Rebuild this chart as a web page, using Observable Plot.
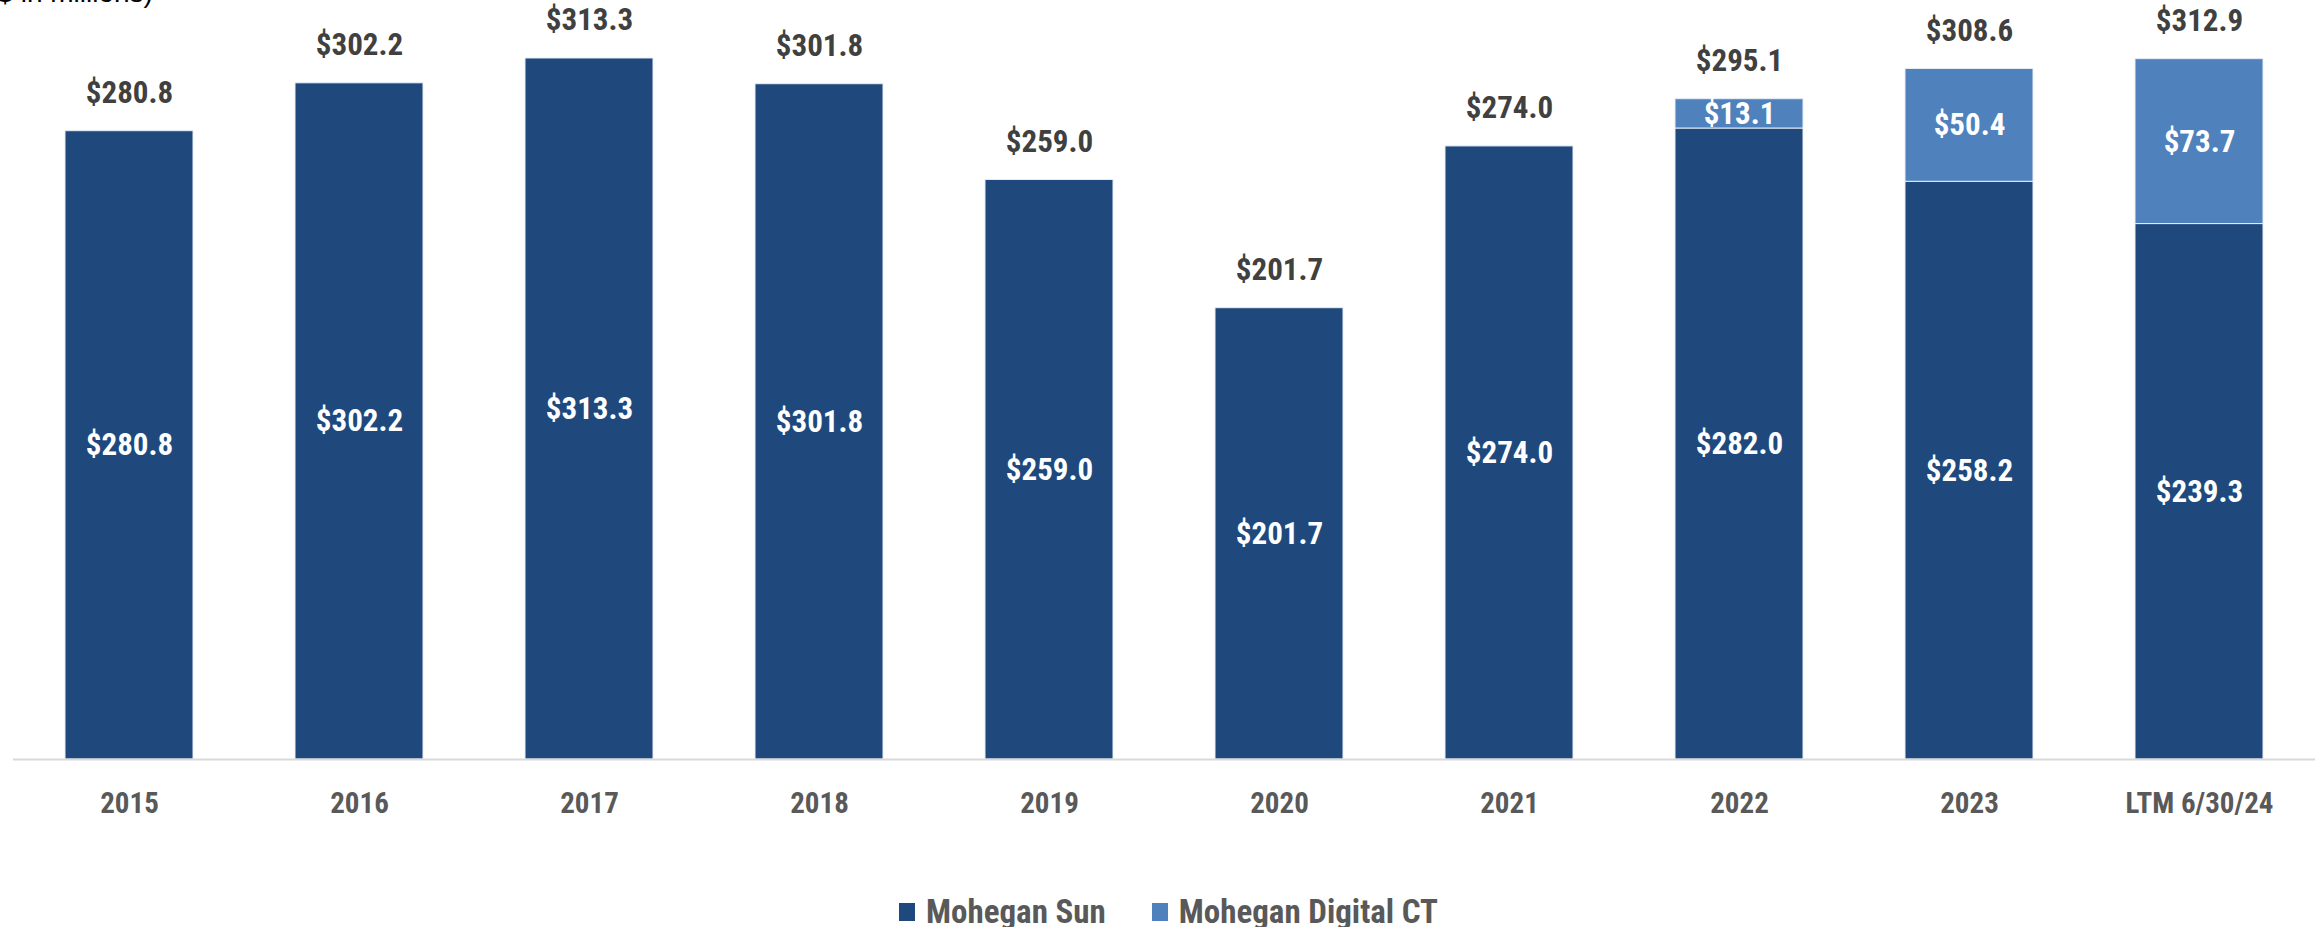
<!DOCTYPE html>
<html>
<head>
<meta charset="utf-8">
<script src="https://cdn.jsdelivr.net/npm/d3@7"></script>
<script src="https://cdn.jsdelivr.net/npm/@observablehq/plot@0.6"></script>
<style>
  html, body { margin: 0; padding: 0; background: #fff; overflow: hidden; }
  #wrap { position: relative; width: 2318px; height: 927px; }
  #unit { position: absolute; left: -12px; top: -23px; font-family: "Liberation Sans", Arial, sans-serif; font-size: 28px; color: #000; white-space: nowrap; }
  #legend { position: absolute; left: 899px; top: 892px; height: 40px; display: flex; font-family: "Roboto", sans-serif; font-stretch: 75%; font-weight: bold; font-size: 33px; line-height: 40px; color: #595959; }
  .item { display: flex; align-items: center; margin-right: 46px; }
  .sw { width: 16px; height: 18px; margin-right: 11px; }
  svg text { font-stretch: 75%; }
</style>
</head>
<body>
<div id="wrap">
  <div id="chart"></div>
  <div id="unit">($ in millions)</div>
  <div id="legend"></div>
</div>
<script>
const categories = ["2015", "2016", "2017", "2018", "2019", "2020", "2021", "2022", "2023", "LTM 6/30/24"];
const moheganSun = [280.8, 302.2, 313.3, 301.8, 259.0, 201.7, 274.0, 282.0, 258.2, 239.3];
const moheganDigital = [0, 0, 0, 0, 0, 0, 0, 13.1, 50.4, 73.7];
const totals = [280.8, 302.2, 313.3, 301.8, 259.0, 201.7, 274.0, 295.1, 308.6, 312.9];
const seriesNames = ["Mohegan Sun", "Mohegan Digital CT"];
const seriesColors = ["#1f497d", "#4f81bd"];

const rows = [];
categories.forEach((c, i) => {
  rows.push({cat: c, series: seriesNames[0], value: moheganSun[i]});
  if (moheganDigital[i] > 0) rows.push({cat: c, series: seriesNames[1], value: moheganDigital[i]});
});
const totalRows = categories.map((c, i) => ({cat: c, total: totals[i]}));
const fmt = v => "$" + v.toFixed(1);
const font = '"Roboto", sans-serif';

const chart = Plot.plot({
  width: 2318,
  height: 850,
  marginTop: 43,
  marginBottom: 91,
  marginLeft: 13,
  marginRight: 3,
  style: {fontFamily: font, fontWeight: "bold", background: "white"},
  x: {domain: categories, paddingInner: 0.444, paddingOuter: 0.222, label: null},
  y: {domain: [0, 320], axis: null},
  color: {domain: seriesNames, range: seriesColors},
  marks: [
    Plot.barY(rows, {x: "cat", y: "value", fill: "series", stroke: "#e8edf5", strokeWidth: 1, order: seriesNames}),
    Plot.ruleY([0], {stroke: "#d9d9d9", strokeWidth: 2}),
    Plot.text(rows, Plot.stackY({x: "cat", y: "value", z: "series", order: seriesNames, text: d => fmt(d.value), fill: "white", fontSize: 31, fontWeight: "bold"})),
    Plot.text(totalRows, {x: "cat", y: "total", text: d => fmt(d.total), dy: -38, fill: "#404040", fontSize: 31, fontWeight: "bold"}),
    Plot.axisX({tickSize: 0, tickPadding: 33, fontSize: 29, fontWeight: "bold", color: "#595959", label: null})
  ]
});
document.getElementById("chart").appendChild(chart);

const legend = document.getElementById("legend");
seriesNames.forEach((n, i) => {
  const it = document.createElement("div");
  it.className = "item";
  const sw = document.createElement("div");
  sw.className = "sw";
  sw.style.background = seriesColors[i];
  const t = document.createElement("span");
  t.textContent = n;
  it.appendChild(sw); it.appendChild(t);
  legend.appendChild(it);
});
</script>
</body>
</html>
